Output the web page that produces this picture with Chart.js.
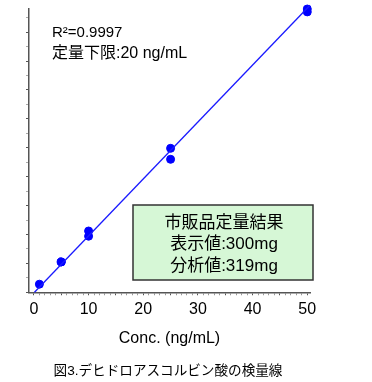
<!DOCTYPE html>
<html>
<head>
<meta charset="utf-8">
<script src="https://cdn.jsdelivr.net/npm/chart.js@4"></script>
<style>
  body { margin: 0; background: #fff; }
  #wrap { width: 372px; height: 382px; }
</style>
</head>
<body>
<div id="wrap"><canvas id="calChart"></canvas></div>
<script>
// 検量線のデータ (濃度 ng/mL と ピーク面積 任意単位)
const concX = [1, 5, 5, 10, 10, 25, 25, 50, 50];
const areaY = [0.28, 1.05, 1.05, 2.12, 1.94, 4.98, 4.60, 9.80, 9.70];
// 回帰直線の両端
const fitX = [0.1, 50.5];
const fitY = [0.0, 9.93];
const xTickLabels = [0, 10, 20, 30, 40, 50];

const FONT = '"Liberation Sans", Arial, "Noto Sans CJK JP", sans-serif';

// 目盛り位置 (x: 1刻み, y: 0.5刻み)
const xTickVals = [];
for (let v = 0; v <= 50; v++) xTickVals.push(v);
const yTickVals = [];
for (let v = 0; v <= 19; v++) yTickVals.push(v / 2);

// 注釈テキストと結果ボックス
const notes = {
  id: 'notes',
  afterDraw(chart) {
    const c = chart.ctx;
    c.save();
    c.fillStyle = '#000';
    c.textBaseline = 'middle';
    c.textAlign = 'left';
    c.font = '15px ' + FONT;
    c.fillText('R²=0.9997', 52, 33);
    c.font = '16px ' + FONT;
    c.fillText('定量下限:20 ng/mL', 52, 54);

    // 緑の枠
    c.fillStyle = '#d6f7d6';
    c.strokeStyle = '#333';
    c.lineWidth = 1.5;
    c.fillRect(133, 205, 180, 75);
    c.strokeRect(133, 205, 180, 75);
    c.fillStyle = '#000';
    c.textAlign = 'center';
    c.font = '17px ' + FONT;
    c.fillText('市販品定量結果', 224, 223);
    c.fillText('表示値:300mg', 224, 244);
    c.fillText('分析値:319mg', 224, 266);
    c.restore();
  }
};

const ctx = document.getElementById('calChart').getContext('2d');
new Chart(ctx, {
  type: 'scatter',
  data: {
    datasets: [
      {
        label: 'fit',
        type: 'line',
        data: fitX.map((x, i) => ({ x: x, y: fitY[i] })),
        borderColor: '#1a1aff',
        borderWidth: 1.3,
        pointRadius: 0,
        fill: false,
        clip: false
      },
      {
        label: 'data',
        data: concX.map((x, i) => ({ x: x, y: areaY[i] })),
        backgroundColor: '#0000ff',
        borderColor: '#0000ff',
        pointRadius: 4,
        clip: false
      }
    ]
  },
  options: {
    responsive: true,
    maintainAspectRatio: false,
    animation: false,
    layout: { padding: { left: 26, right: 62, top: 9, bottom: 1 } },
    plugins: {
      legend: { display: false },
      tooltip: { enabled: false },
      title: {
        display: true,
        position: 'bottom',
        text: '図3.デヒドロアスコルビン酸の検量線',
        color: '#000',
        font: { family: FONT, size: 13.6, weight: 'normal' },
        padding: { top: 14, bottom: 2 }
      }
    },
    scales: {
      x: {
        type: 'linear',
        min: -0.9,
        max: 50.5,
        afterBuildTicks: axis => { axis.ticks = xTickVals.map(v => ({ value: v })); },
        border: { color: '#555', width: 1.5 },
        grid: {
          drawOnChartArea: false,
          tickLength: 3,
          color: ctx => (ctx.tick && ctx.tick.value % 5 === 0) ? '#555' : '#999'
        },
        ticks: {
          autoSkip: false,
          maxRotation: 0,
          color: '#000',
          padding: 5,
          font: { family: FONT, size: 16 },
          callback: v => xTickLabels.includes(v) ? String(v) : ''
        },
        title: {
          display: true,
          text: 'Conc. (ng/mL)',
          color: '#000',
          font: { family: FONT, size: 16 },
          padding: { top: 5, bottom: 0 }
        }
      },
      y: {
        min: 0,
        max: 9.8,
        afterBuildTicks: axis => { axis.ticks = yTickVals.map(v => ({ value: v })); },
        border: { color: '#555', width: 1.5 },
        grid: {
          drawOnChartArea: false,
          tickLength: 3,
          color: ctx => (ctx.tick && Number.isInteger(ctx.tick.value)) ? '#555' : '#aaa'
        },
        ticks: {
          display: false
        }
      }
    }
  },
  plugins: [notes]
});
</script>
</body>
</html>
